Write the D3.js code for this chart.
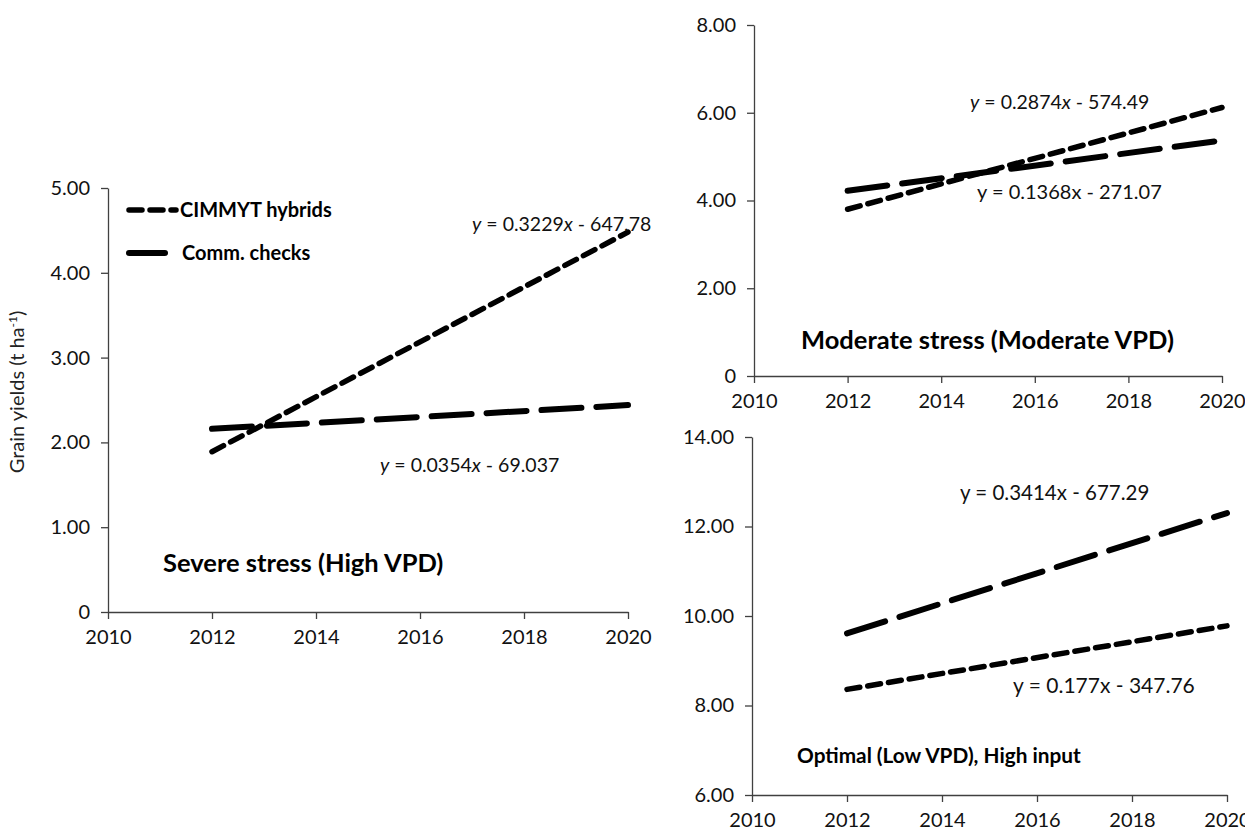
<!DOCTYPE html>
<html>
<head>
<meta charset="utf-8">
<script src="https://cdn.jsdelivr.net/npm/d3@7"></script>
<style>
  html, body { margin: 0; padding: 0; background: #fff; }
  svg { display: block; font-family: Lato, "Open Sans", sans-serif; }
</style>
</head>
<body>
<svg id="chart" width="1245" height="833"></svg>
<script>
// ---------- data ----------
const years = [2012, 2020];
const xTicks = [2010, 2012, 2014, 2016, 2018, 2020];

// Severe stress (High VPD)
const severeCimmyt = [1.89, 4.48];
const severeChecks = [2.16, 2.44];
const severeTicks = [0, 1, 2, 3, 4, 5];

// Moderate stress (Moderate VPD)
const moderateCimmyt = [3.80, 6.12];
const moderateChecks = [4.22, 5.37];
const moderateTicks = [0, 2, 4, 6, 8];

// Optimal (Low VPD), High input
const optimalCimmyt = [8.36, 9.78];
const optimalChecks = [9.61, 12.30];
const optimalTicks = [6, 8, 10, 12, 14];

const seriesNames = ["CIMMYT hybrids", "Comm. checks"];

// ---------- drawing ----------
const svg = d3.select("#chart");
const AXIS = "#404040";
const DASH_SHORT = "13,8";
const DASH_LONG = "40,15";

function fmt(v) { return v === 0 ? "0" : d3.format(".2f")(v); }

function panel(cfg) {
  const x = d3.scaleLinear().domain([2010, 2020]).range(cfg.xr);
  const y = d3.scaleLinear().domain(cfg.yd).range(cfg.yr);
  const g = svg.append("g");

  const xAxis = g.append("g").attr("transform", `translate(0,${cfg.yr[0]})`)
    .call(d3.axisBottom(x).tickValues(xTicks).tickFormat(d3.format("d")).tickSize(7).tickPadding(11).tickSizeOuter(0));
  const yAxis = g.append("g").attr("transform", `translate(${cfg.xr[0]},0)`)
    .call(d3.axisLeft(y).tickValues(cfg.ticks).tickFormat(fmt).tickSize(7).tickPadding(11).tickSizeOuter(0));
  [xAxis, yAxis].forEach(a => {
    a.selectAll("path, line").attr("stroke", AXIS).attr("stroke-width", 1.3);
    a.selectAll("text").attr("font-size", 20).attr("fill", "#111").attr("font-family", "Lato, sans-serif");
  });

  const line = d3.line().x(d => x(d[0])).y(d => y(d[1]));
  g.append("path").datum(years.map((yr, i) => [yr, cfg.checks[i]]))
    .attr("d", line).attr("fill", "none").attr("stroke", "#000")
    .attr("stroke-width", 6).attr("stroke-dasharray", DASH_LONG).attr("stroke-linecap", "round");
  g.append("path").datum(years.map((yr, i) => [yr, cfg.cimmyt[i]]))
    .attr("d", line).attr("fill", "none").attr("stroke", "#000")
    .attr("stroke-width", 5.5).attr("stroke-dasharray", DASH_SHORT).attr("stroke-linecap", "round");

  g.append("text").attr("x", cfg.title[0]).attr("y", cfg.title[1])
    .attr("font-size", cfg.titleSize).attr("font-weight", "bold").attr("fill", "#000")
    .text(cfg.titleText);

  cfg.eqs.forEach(e => {
    const t = g.append("text").attr("x", e.x).attr("y", e.y).attr("font-size", e.size).attr("fill", "#111");
    if (e.italic) {
      t.append("tspan").attr("font-style", "italic").text("y");
      t.append("tspan").text(" = " + e.slope);
      t.append("tspan").attr("font-style", "italic").text("x");
      t.append("tspan").text(" - " + e.icpt);
    } else {
      t.text(`y = ${e.slope}x - ${e.icpt}`);
    }
  });
  return g;
}

panel({
  xr: [108, 628], yd: [0, 5], yr: [612, 188], ticks: severeTicks,
  cimmyt: severeCimmyt, checks: severeChecks,
  title: [163, 572], titleSize: 25.5, titleText: "Severe stress (High VPD)",
  eqs: [
    { x: 472, y: 231, size: 19.5, slope: "0.3229", icpt: "647.78", italic: true },
    { x: 380, y: 472, size: 19.5, slope: "0.0354", icpt: "69.037", italic: true }
  ]
});

panel({
  xr: [754, 1222], yd: [0, 8], yr: [376, 25], ticks: moderateTicks,
  cimmyt: moderateCimmyt, checks: moderateChecks,
  title: [801, 349], titleSize: 25.5, titleText: "Moderate stress (Moderate VPD)",
  eqs: [
    { x: 970, y: 109, size: 19.5, slope: "0.2874", icpt: "574.49", italic: true },
    { x: 977, y: 199, size: 20, slope: "0.1368", icpt: "271.07", italic: false }
  ]
});

panel({
  xr: [752, 1227], yd: [6, 14], yr: [795, 437], ticks: optimalTicks,
  cimmyt: optimalCimmyt, checks: optimalChecks,
  title: [797, 763], titleSize: 20.8, titleText: "Optimal (Low VPD), High input",
  eqs: [
    { x: 960, y: 500, size: 20.5, slope: "0.3414", icpt: "677.29", italic: false },
    { x: 1013, y: 693, size: 21, slope: "0.177", icpt: "347.76", italic: false }
  ]
});

// y-axis title
svg.append("text")
  .attr("transform", "translate(24,392) rotate(-90)")
  .attr("text-anchor", "middle").attr("font-size", 20).attr("fill", "#222")
  .call(t => {
    t.append("tspan").text("Grain yields (t ha");
    t.append("tspan").attr("font-size", 12).attr("dy", -7).text("-1");
    t.append("tspan").attr("dy", 7).text(")");
  });

// legend
const legend = svg.append("g");
const legendDash = [DASH_SHORT, DASH_LONG];
const legendW = [5.5, 6];
const legendEnd = [176, 165];
seriesNames.forEach((name, i) => {
  const yy = 210 + i * 43;
  legend.append("line").attr("x1", 129).attr("x2", legendEnd[i]).attr("y1", yy).attr("y2", yy)
    .attr("stroke", "#000").attr("stroke-width", legendW[i])
    .attr("stroke-dasharray", legendDash[i]).attr("stroke-linecap", "round");
  legend.append("text").attr("x", i === 0 ? 180 : 182).attr("y", yy + 7)
    .attr("font-size", 20).attr("font-weight", "bold").attr("fill", "#000").text(name);
});
</script>
</body>
</html>
